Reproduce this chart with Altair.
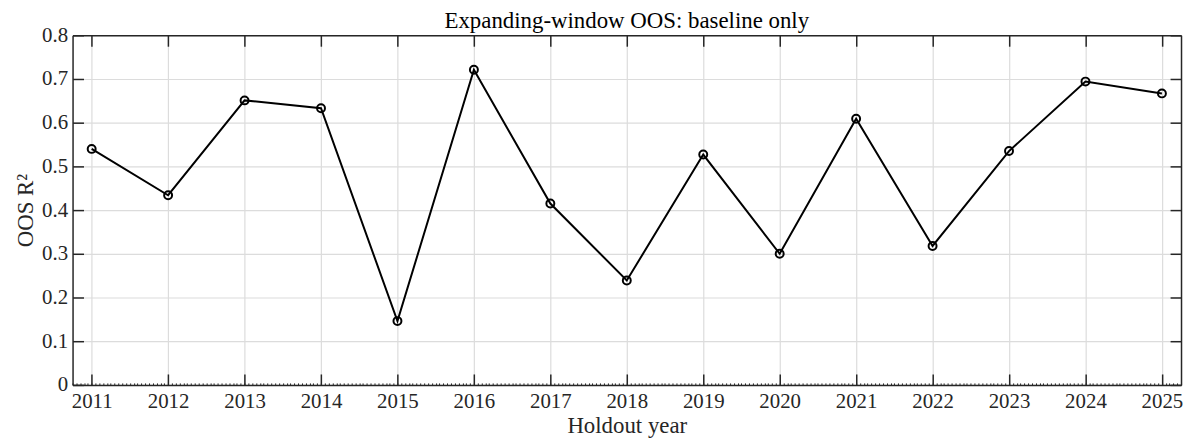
import altair as alt
import pandas as pd

years = [2011, 2012, 2013, 2014, 2015, 2016, 2017, 2018, 2019, 2020, 2021, 2022, 2023, 2024, 2025]
oos_r2 = [0.540, 0.434, 0.651, 0.633, 0.146, 0.721, 0.415, 0.239, 0.527, 0.300, 0.609, 0.318, 0.535, 0.694, 0.667]
y_ticks = [0, 0.1, 0.2, 0.3, 0.4, 0.5, 0.6, 0.7, 0.8]
x_domain = [2010.75, 2025.25]
y_domain = [0, 0.8]
minor_x = [round(2010.75 + 0.05 * k, 2) for k in range(0, 291)]

df = pd.DataFrame({"year": years, "r2": oos_r2})

W, H = 1116, 352
FONT = "Liberation Serif"
INK = "#262626"
GRID = "#dcdcdc"

xs = alt.Scale(domain=x_domain, nice=False, zero=False)
ys = alt.Scale(domain=y_domain, nice=False, zero=True)

base = alt.Chart(df)

# main layer: labels, grid, bottom/left box edges
line = base.mark_line(color="black", strokeWidth=2).encode(
    x=alt.X("year:Q", scale=xs, axis=alt.Axis(
        orient="bottom", values=years, format="d", ticks=False, tickSize=0,
        labelFont=FONT, labelFontSize=21, labelColor=INK, labelPadding=6,
        domain=True, domainColor=INK, domainWidth=1.5,
        grid=True, gridColor=GRID, gridWidth=1.2,
        title="Holdout year", titleFont=FONT, titleFontSize=23, titleFontWeight="normal",
        titleColor=INK, titlePadding=3)),
    y=alt.Y("r2:Q", scale=ys, axis=alt.Axis(
        orient="left", values=y_ticks, ticks=False, tickSize=0,
        labelExpr="datum.value == 0 ? '0' : format(datum.value, '.1f')",
        labelFont=FONT, labelFontSize=21, labelColor=INK, labelPadding=5,
        domain=True, domainColor=INK, domainWidth=1.5,
        grid=True, gridColor=GRID, gridWidth=1.2,
        title="OOS R²", titleFont=FONT, titleFontSize=23, titleFontWeight="normal",
        titleColor=INK, titlePadding=4)),
)

points = base.mark_point(shape="circle", filled=False, color="black", strokeWidth=2, size=64, opacity=1).encode(
    x=alt.X("year:Q", scale=xs, axis=None),
    y=alt.Y("r2:Q", scale=ys, axis=None),
)

# inward ticks on bottom (top-oriented axis shifted down) and left (right-oriented axis shifted left)
ticks_bl = base.mark_point(opacity=0).encode(
    x=alt.X("year:Q", scale=xs, axis=alt.Axis(
        orient="top", offset=-H, values=years, labels=False, domain=False, grid=False,
        ticks=True, tickSize=11, tickColor=INK, tickWidth=1.5, title=None)),
    y=alt.Y("r2:Q", scale=ys, axis=alt.Axis(
        orient="right", offset=-W, values=y_ticks, labels=False, domain=False, grid=False,
        ticks=True, tickSize=11, tickColor=INK, tickWidth=1.5, title=None)),
)

# top and right edges with inward ticks
ticks_tr = base.mark_point(opacity=0).encode(
    x=alt.X("year:Q", scale=xs, axis=alt.Axis(
        orient="bottom", offset=-H, values=years, labels=False, domain=True,
        domainColor=INK, domainWidth=1.5, grid=False,
        ticks=True, tickSize=11, tickColor=INK, tickWidth=1.5, title=None)),
    y=alt.Y("r2:Q", scale=ys, axis=alt.Axis(
        orient="left", offset=-W, values=y_ticks, labels=False, domain=True,
        domainColor=INK, domainWidth=1.5, grid=False,
        ticks=True, tickSize=11, tickColor=INK, tickWidth=1.5, title=None)),
)

# minor ticks along the bottom edge
minor = base.mark_point(opacity=0).encode(
    x=alt.X("year:Q", scale=xs, axis=alt.Axis(
        orient="top", offset=-H, values=minor_x, labels=False, domain=False, grid=False,
        ticks=True, tickSize=2, tickColor=INK, tickWidth=1, title=None)),
    y=alt.Y("r2:Q", scale=ys, axis=None),
)

chart = alt.layer(line, ticks_bl, ticks_tr, minor, points).resolve_axis(
    x="independent", y="independent"
).properties(
    width=W, height=H,
    autosize=alt.AutoSizeParams(type="none"),
    padding={"left": 65, "top": 26, "right": 3, "bottom": 52},
    title=alt.TitleParams("Expanding-window OOS: baseline only", font=FONT, fontSize=23,
                          fontWeight="normal", color="black", anchor="middle", offset=-9),
).configure(background="white", font=FONT).configure_view(stroke=None)

chart.save("out.html", embed_options={"renderer": "svg", "actions": False})
